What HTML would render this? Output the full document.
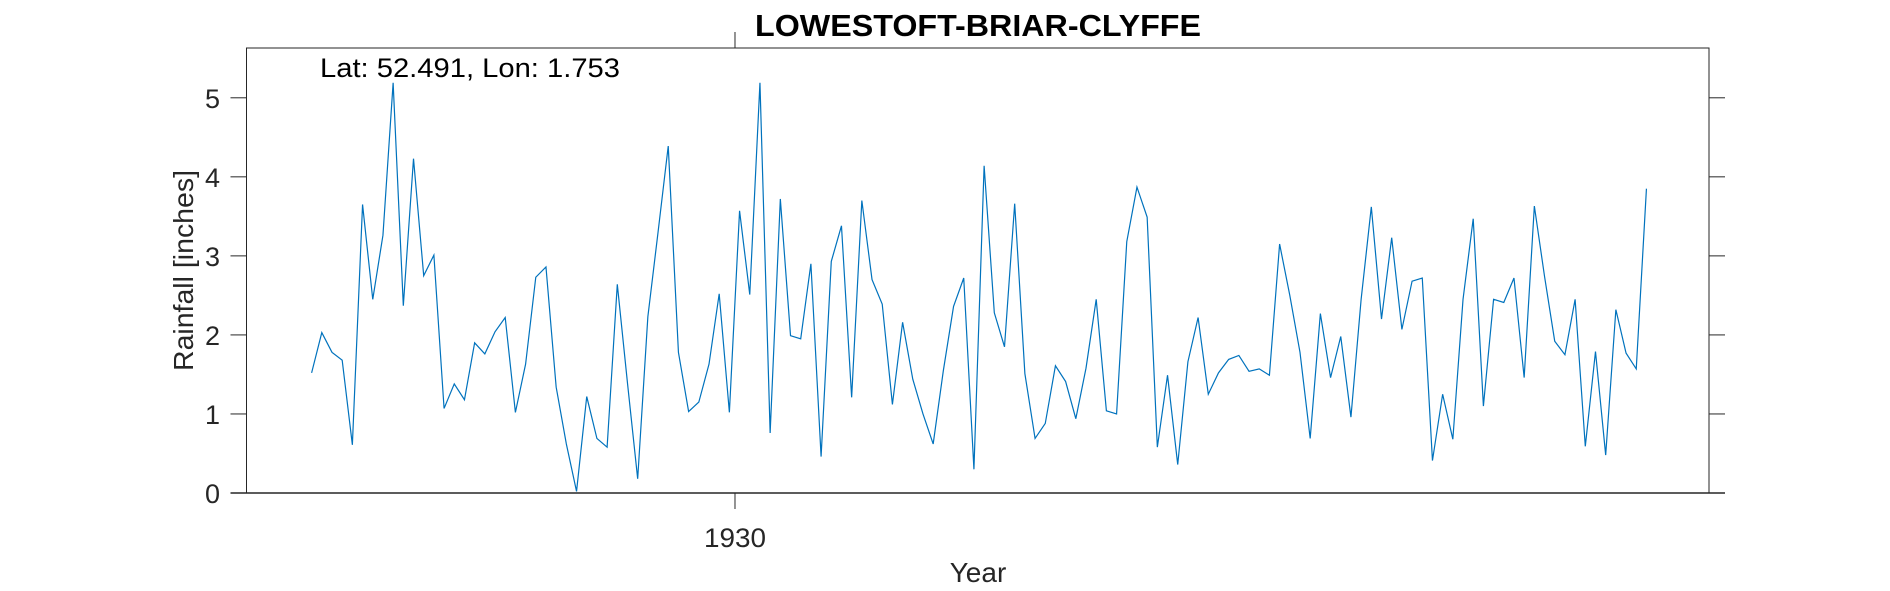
<!DOCTYPE html>
<html><head><meta charset="utf-8"><style>
html,body{margin:0;padding:0;background:#fff;}
svg{display:block;font-family:"Liberation Sans",Arial,sans-serif;}
</style></head><body>
<svg id="chart" width="1890" height="591" viewBox="0 0 1890 591">
<text x="978" y="36" text-anchor="middle" font-weight="bold" font-size="31" textLength="446" lengthAdjust="spacingAndGlyphs" fill="#000">LOWESTOFT-BRIAR-CLYFFE</text>
<g id="axes"></g>
<g id="series"></g>
<text x="320" y="77" font-size="27" textLength="300" lengthAdjust="spacingAndGlyphs" fill="#000">Lat: 52.491, Lon: 1.753</text>
<text transform="translate(193,270.5) rotate(-90)" text-anchor="middle" font-size="28" textLength="201" lengthAdjust="spacingAndGlyphs" fill="#262626">Rainfall [inches]</text>
<text x="978" y="582" text-anchor="middle" font-size="28" fill="#262626">Year</text>
</svg>
<script>
const rainfall = [1.52,2.03,1.78,1.68,0.61,3.65,2.45,3.26,5.19,2.37,4.23,2.75,3.01,1.07,1.38,1.18,1.90,1.76,2.04,2.22,1.02,1.63,2.73,2.86,1.34,0.62,0.02,1.22,0.69,0.58,2.64,1.39,0.18,2.23,3.30,4.39,1.78,1.03,1.15,1.63,2.52,1.02,3.57,2.51,5.19,0.76,3.72,1.99,1.95,2.90,0.46,2.93,3.38,1.21,3.70,2.70,2.39,1.12,2.16,1.44,1.00,0.62,1.55,2.36,2.72,0.30,4.14,2.28,1.85,3.66,1.51,0.69,0.88,1.61,1.41,0.94,1.58,2.45,1.04,1.00,3.18,3.87,3.49,0.58,1.49,0.36,1.66,2.22,1.25,1.52,1.69,1.74,1.54,1.57,1.49,3.15,2.50,1.78,0.69,2.27,1.46,1.98,0.96,2.45,3.62,2.20,3.23,2.07,2.68,2.72,0.41,1.25,0.68,2.45,3.47,1.10,2.45,2.41,2.72,1.46,3.63,2.74,1.92,1.75,2.45,0.59,1.79,0.48,2.32,1.77,1.57,3.85];
const startYear = 1888.45;
const yearStep = 1;
const xTickLabels = ["1930"];
const xTickValues = [1930];
const yTickValues = [0,1,2,3,4,5];
const xDomain = [1882.06, 2025.59];
const yDomain = [0, 5.63];

const L=246.5,R=1709,T=48,B=493;
const xs=v=>L+(v-xDomain[0])/(xDomain[1]-xDomain[0])*(R-L);
const ys=v=>B-(v-yDomain[0])/(yDomain[1]-yDomain[0])*(B-T);
const NS="http://www.w3.org/2000/svg";
const axes=document.getElementById('axes');
function mk(tag,attrs,parent){const e=document.createElementNS(NS,tag);for(const k in attrs)e.setAttribute(k,attrs[k]);parent.appendChild(e);return e;}
const box=mk('rect',{x:L,y:T,width:R-L,height:B-T,fill:'none',stroke:'#262626','stroke-width':1},axes);


yTickValues.forEach(v=>{
  const y=ys(v);
  const t1=mk('line',{x1:L-16,x2:L,y1:y,y2:y,stroke:'#262626','stroke-width':1},axes);
  
  
  const t2=mk('line',{x1:R,x2:R+16,y1:y,y2:y,stroke:'#262626','stroke-width':1},axes);
  
  
  const lb=mk('text',{x:220,y:y+10,'text-anchor':'end','font-size':27,fill:'#262626'},axes);
  lb.textContent=String(v);
  
  
});
const bl=mk('line',{x1:L-16,x2:R+16,y1:B,y2:B,stroke:'#262626','stroke-width':1.5},axes);


xTickValues.forEach((v,i)=>{
  const x=xs(v);
  const a=mk('line',{x1:x,x2:x,y1:B,y2:B+16,stroke:'#262626','stroke-width':1},axes);
  
  
  const b=mk('line',{x1:x,x2:x,y1:T-16,y2:T,stroke:'#262626','stroke-width':1},axes);
  
  
  const lb=mk('text',{x:x,y:547,'text-anchor':'middle','font-size':27,textLength:62,lengthAdjust:'spacingAndGlyphs',fill:'#262626'},axes);
  lb.textContent=xTickLabels[i];
  
  
});
const pts=rainfall.map((v,i)=>xs(startYear+i*yearStep).toFixed(2)+','+ys(v).toFixed(2)).join(' ');
const line=mk('polyline',{points:pts,fill:'none',stroke:'#0072BD','stroke-width':1.2,'stroke-linejoin':'miter'},document.getElementById('series'));


</script>
</body></html>
